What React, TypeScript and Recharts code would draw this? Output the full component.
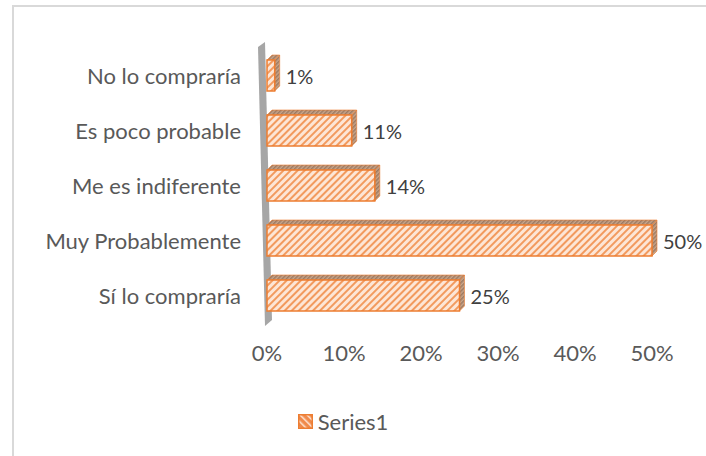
import React from "react";
import {
  BarChart,
  Bar,
  XAxis,
  YAxis,
  Legend,
  LabelList,
  ReferenceArea,
} from "recharts";

const categories = [
  "No lo compraría",
  "Es poco probable",
  "Me es indiferente",
  "Muy Probablemente",
  "Sí lo compraría",
];
const shares = [0.01, 0.11, 0.14, 0.5, 0.25];
const xTicks = [0, 0.1, 0.2, 0.3, 0.4, 0.5];
const seriesName = "Series1";

const data = categories.map((name, i) => ({ name, value: shares[i] }));

const FONT = "Lato, 'Noto Sans', sans-serif";
const FS = 22;
const TEXT = "#595959";
const ORANGE = "#ed7d31";
const DEPTH = 5;

const pct = (v: number) => `${Math.round(v * 100)}%`;

function Bar3D(props: any) {
  const { x, y, width, height } = props;
  if (width == null || height == null) return null;
  const d = DEPTH;
  return (
    <g>
      <polygon
        points={`${x},${y + d} ${x + d},${y} ${x + width + d},${y} ${x + width},${y + d}`}
        fill="url(#hatchTop)"
        stroke={ORANGE}
        strokeWidth={1}
        strokeOpacity={0.6}
      />
      <polygon
        points={`${x + width},${y + d} ${x + width + d},${y} ${x + width + d},${y + height - d} ${x + width},${y + height}`}
        fill="url(#hatchTop)"
        stroke={ORANGE}
        strokeWidth={1}
        strokeOpacity={0.6}
      />
      <rect
        x={x}
        y={y + d}
        width={width}
        height={height - d}
        fill="url(#hatch)"
        stroke={ORANGE}
        strokeWidth={1.5}
      />
    </g>
  );
}

function Wall(props: any) {
  const { x, y, height } = props;
  const b = y + height;
  return (
    <polygon
      points={`${x - 9},${y + 2} ${x - 2},${y - 3} ${x + 5},${b} ${x - 2},${b + 6}`}
      fill="#a6a6a6"
    />
  );
}

function ValueLabel(props: any) {
  const { x, y, width, height, value } = props;
  return (
    <text
      x={x + width + 11}
      y={y + height / 2 + 3}
      dominantBaseline="central"
      fontFamily={FONT}
      fontSize={20}
      fill="#404040"
    >
      {pct(value)}
    </text>
  );
}

function LegendBox() {
  return (
    <div
      style={{
        display: "flex",
        justifyContent: "center",
        alignItems: "center",
        height: 30,
        paddingLeft: 34,
        fontFamily: FONT,
        fontSize: FS,
        color: TEXT,
      }}
    >
      <svg width={15} height={15} style={{ marginRight: 5 }}>
        <rect x={0.75} y={0.75} width={13.5} height={13.5} fill="url(#hatchLegend)" stroke={ORANGE} strokeWidth={1.5} />
      </svg>
      <span>{seriesName}</span>
    </div>
  );
}

export default function App() {
  return (
    <div
      style={{
        position: "absolute",
        left: 0,
        top: 0,
        width: 706,
        height: 456,
        overflow: "hidden",
        background: "#fff",
      }}
    >
      <div
        style={{
          position: "absolute",
          left: 12,
          top: 5,
          width: 720,
          height: 480,
          borderLeft: "2px solid #d9d9d9",
          borderTop: "2px solid #d9d9d9",
        }}
      />
      <BarChart
        width={706}
        height={456}
        data={data}
        layout="vertical"
        barSize={36}
        margin={{ top: 45, right: 54, left: 0, bottom: 20 }}
        style={{ position: "absolute", left: 0, top: 0 }}
      >
        <defs>
          <pattern id="hatch" patternUnits="userSpaceOnUse" width={5} height={5} patternTransform="rotate(45)">
            <rect width={5} height={5} fill="#fde6d6" />
            <rect width={2} height={5} fill="#f29a5e" />
          </pattern>
          <pattern id="hatchTop" patternUnits="userSpaceOnUse" width={3} height={3} patternTransform="rotate(45)">
            <rect width={3} height={3} fill="#c9a58a" />
            <rect width={1.5} height={3} fill="#9c7a62" />
          </pattern>
          <pattern id="hatchLegend" patternUnits="userSpaceOnUse" width={5} height={5} patternTransform="rotate(-45)">
            <rect width={5} height={5} fill="#f08a4b" />
            <rect width={1.5} height={5} fill="#fde6d6" />
          </pattern>
        </defs>
        <XAxis
          type="number"
          domain={[0, 0.5]}
          ticks={xTicks}
          tickFormatter={pct}
          axisLine={false}
          tickLine={false}
          tickMargin={19}
          height={86}
          tick={{ fontSize: FS, fill: TEXT, fontFamily: FONT }}
        />
        <YAxis
          type="category"
          dataKey="name"
          width={267}
          axisLine={false}
          tickLine={false}
          tickMargin={20}
          tick={{ fontSize: FS, fill: TEXT, fontFamily: FONT, dy: 4 }}
        />
        <ReferenceArea x1={0} x2={0.01} shape={<Wall />} ifOverflow="visible" />
        <Bar
          dataKey="value"
          name={seriesName}
          shape={<Bar3D />}
          isAnimationActive={false}
        >
          <LabelList dataKey="value" content={<ValueLabel />} />
        </Bar>
        <Legend
          verticalAlign="bottom"
          wrapperStyle={{ height: 30 }}
          content={() => <LegendBox />}
        />
      </BarChart>
    </div>
  );
}
